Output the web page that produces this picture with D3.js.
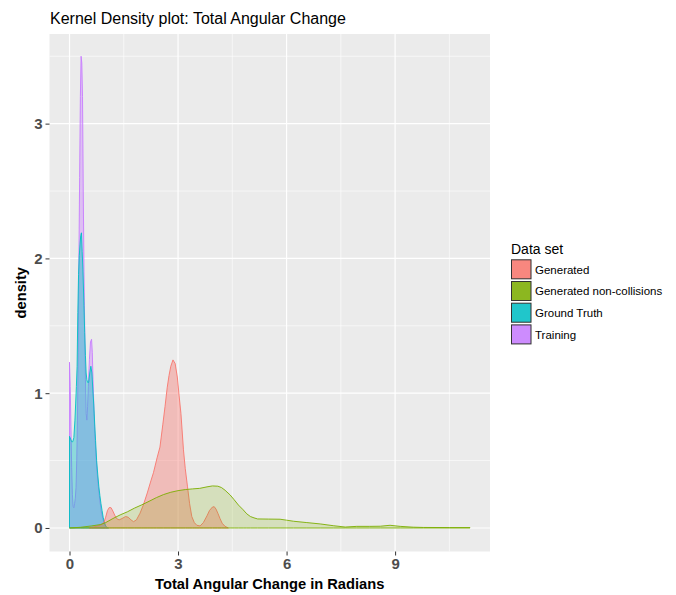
<!DOCTYPE html>
<html><head><meta charset="utf-8">
<script src="https://cdn.jsdelivr.net/npm/d3@7"></script>
<style>body{margin:0;background:#fff}</style>
</head><body><svg id="c" width="676" height="595"></svg>
<script>
// ---------- data ----------
const seriesNames = ["Generated", "Generated non-collisions", "Ground Truth", "Training"];
const seriesColors = ["#F8766D", "#7CAE00", "#00BFC4", "#C77CFF"];

const generatedX = [0.55,0.70,0.85,0.94,1.00,1.05,1.10,1.15,1.20,1.25,1.30,1.37,1.45,1.55,1.62,1.70,1.77,1.85,1.95,2.04,2.15,2.25,2.32,2.42,2.50,2.58,2.64,2.70,2.75,2.80,2.86,2.92,2.98,3.03,3.08,3.15,3.20,3.26,3.32,3.38,3.45,3.52,3.61,3.70,3.80,3.87,3.95,4.00,4.05,4.10,4.16,4.22,4.30,4.39];
const generatedY = [0.0,0.01,0.02,0.035,0.08,0.13,0.152,0.15,0.125,0.095,0.07,0.06,0.07,0.085,0.08,0.06,0.047,0.06,0.11,0.17,0.26,0.35,0.41,0.52,0.60,0.77,0.90,1.04,1.13,1.20,1.247,1.22,1.12,0.98,0.85,0.58,0.44,0.31,0.18,0.085,0.04,0.02,0.015,0.04,0.09,0.13,0.155,0.158,0.14,0.11,0.07,0.035,0.012,0.0];

const nonCollX = [0.00,0.30,0.60,0.85,1.00,1.20,1.40,1.60,1.80,2.00,2.20,2.40,2.60,2.80,3.00,3.20,3.40,3.60,3.80,3.95,4.10,4.20,4.30,4.44,4.55,4.67,4.80,4.90,5.00,5.10,5.20,5.50,5.82,6.00,6.19,6.56,6.93,7.29,7.62,7.94,8.30,8.59,8.86,9.14,9.50,9.78,10.50,11.07];
const nonCollY = [0.0,0.005,0.015,0.025,0.04,0.07,0.097,0.12,0.148,0.172,0.198,0.225,0.248,0.265,0.277,0.285,0.29,0.294,0.305,0.312,0.31,0.30,0.28,0.245,0.21,0.17,0.135,0.105,0.085,0.075,0.067,0.066,0.065,0.058,0.05,0.04,0.03,0.017,0.007,0.012,0.012,0.013,0.02,0.012,0.006,0.004,0.003,0.003];

const groundTruthX = [0.00,0.03,0.06,0.09,0.12,0.15,0.17,0.19,0.21,0.23,0.25,0.27,0.29,0.31,0.33,0.35,0.37,0.40,0.42,0.44,0.46,0.48,0.50,0.53,0.56,0.59,0.62,0.65,0.67,0.70,0.72,0.75,0.78,0.81,0.84,0.87,0.90,0.93,0.96,1.00,1.04,1.08];
const groundTruthY = [0.68,0.66,0.64,0.64,0.67,0.80,0.92,1.05,1.20,1.60,1.88,2.02,2.10,2.17,2.19,2.05,1.92,1.65,1.45,1.28,1.15,1.10,1.08,1.08,1.15,1.20,1.15,1.00,0.92,0.75,0.65,0.50,0.40,0.31,0.24,0.18,0.13,0.08,0.045,0.015,0.003,0.0];

const trainingX = [0.00,0.02,0.04,0.06,0.08,0.10,0.12,0.14,0.16,0.18,0.20,0.22,0.24,0.26,0.28,0.30,0.32,0.34,0.36,0.38,0.40,0.42,0.44,0.46,0.48,0.50,0.52,0.55,0.58,0.61,0.63,0.65,0.68,0.70,0.73,0.76,0.80,0.84,0.88,0.92,0.96,1.00,1.04];
const trainingY = [1.23,1.05,0.75,0.45,0.25,0.16,0.15,0.18,0.22,0.30,0.50,0.80,1.30,2.00,2.60,3.20,3.50,3.45,3.20,2.50,1.90,1.50,1.10,0.85,0.80,0.90,1.05,1.25,1.38,1.40,1.30,1.10,0.85,0.70,0.55,0.42,0.30,0.20,0.12,0.07,0.03,0.01,0.0];

const xTicks = [0, 3, 6, 9];
const xMinor = [1.5, 4.5, 7.5, 10.5];
const yTicks = [0, 1, 2, 3];
const yMinor = [0.5, 1.5, 2.5, 3.5];

// ---------- layout ----------
const svg = d3.select("#c");
const P = {l: 49.5, r: 490, t: 34, b: 551.5};
const x = d3.scaleLinear().domain([-0.553, 11.623]).range([P.l, P.r]);
const y = d3.scaleLinear().domain([-0.1745, 3.665]).range([P.b, P.t]);

svg.append("rect").attr("width", 676).attr("height", 595).attr("fill", "#fff");

// title
svg.append("text").attr("x", 50).attr("y", 24)
  .attr("font-family", "Liberation Sans, Arial, sans-serif").attr("font-size", 16)
  .attr("fill", "#000").text("Kernel Density plot: Total Angular Change");

// panel
svg.append("rect").attr("x", P.l).attr("y", P.t).attr("width", P.r - P.l).attr("height", P.b - P.t).attr("fill", "#EBEBEB");
const grid = svg.append("g");
xMinor.forEach(v => grid.append("line").attr("x1", x(v)).attr("x2", x(v)).attr("y1", P.t).attr("y2", P.b).attr("stroke", "#fff").attr("stroke-width", 0.6));
yMinor.forEach(v => grid.append("line").attr("y1", y(v)).attr("y2", y(v)).attr("x1", P.l).attr("x2", P.r).attr("stroke", "#fff").attr("stroke-width", 0.6));
xTicks.forEach(v => grid.append("line").attr("x1", x(v)).attr("x2", x(v)).attr("y1", P.t).attr("y2", P.b).attr("stroke", "#fff").attr("stroke-width", 1.2));
yTicks.forEach(v => grid.append("line").attr("y1", y(v)).attr("y2", y(v)).attr("x1", P.l).attr("x2", P.r).attr("stroke", "#fff").attr("stroke-width", 1.2));

// densities (drawing order)
const series = [
  {name: "Training", xs: trainingX, ys: trainingY, color: seriesColors[3], alpha: 0.4},
  {name: "Ground Truth", xs: groundTruthX, ys: groundTruthY, color: seriesColors[2], alpha: 0.4},
  {name: "Generated", xs: generatedX, ys: generatedY, color: seriesColors[0], alpha: 0.4},
  {name: "Generated non-collisions", xs: nonCollX, ys: nonCollY, color: seriesColors[1], alpha: 0.2}
];
const area = d3.area().x(d => x(d[0])).y0(y(0)).y1(d => y(d[1])).curve(d3.curveLinear);
series.forEach(s => {
  const pts = s.xs.map((v, i) => [v, s.ys[i]]);
  svg.append("path").attr("d", area(pts) + "Z")
    .attr("fill", s.color).attr("fill-opacity", s.alpha)
    .attr("stroke", s.color).attr("stroke-width", 0.9).attr("stroke-linejoin", "round");
});

// axes
const axFont = "Liberation Sans, Arial, sans-serif";
const xAxis = svg.append("g").attr("transform", `translate(0,${P.b})`)
  .call(d3.axisBottom(x).tickValues(xTicks).tickSize(4).tickPadding(3).tickFormat(d3.format("d")));
const yAxis = svg.append("g").attr("transform", `translate(${P.l},0)`)
  .call(d3.axisLeft(y).tickValues(yTicks).tickSize(4).tickPadding(3).tickFormat(d3.format("d")));
[xAxis, yAxis].forEach(a => {
  a.select(".domain").remove();
  a.selectAll(".tick line").attr("stroke", "#333").attr("stroke-width", 1);
  a.selectAll(".tick text").attr("font-family", axFont).attr("font-size", 15)
    .attr("font-weight", "bold").attr("fill", "#4D4D4D");
});

svg.append("text").attr("x", (P.l + P.r) / 2).attr("y", 589).attr("text-anchor", "middle")
  .attr("font-family", axFont).attr("font-size", 14.7).attr("font-weight", "bold").attr("fill", "#000")
  .text("Total Angular Change in Radians");
svg.append("text").attr("transform", `translate(26,${(P.t + P.b) / 2}) rotate(-90)`).attr("text-anchor", "middle")
  .attr("font-family", axFont).attr("font-size", 14.7).attr("font-weight", "bold").attr("fill", "#000")
  .text("density");

// legend
const lg = svg.append("g");
lg.append("text").attr("x", 511).attr("y", 253.5).attr("font-family", axFont).attr("font-size", 14)
  .attr("fill", "#000").text("Data set");
seriesNames.forEach((n, i) => {
  const ky = 259.3 + i * 21.7;
  lg.append("rect").attr("x", 511).attr("y", ky).attr("width", 20.5).attr("height", 20).attr("fill", "#F2F2F2");
  lg.append("rect").attr("x", 511.5).attr("y", ky + 0.5).attr("width", 19.5).attr("height", 19)
    .attr("fill", seriesColors[i]).attr("fill-opacity", 0.87).attr("stroke", "#333").attr("stroke-width", 1);
  lg.append("text").attr("x", 535).attr("y", ky + 14.2).attr("font-family", axFont).attr("font-size", 11.5)
    .attr("fill", "#000").text(n);
});
</script></body></html>
